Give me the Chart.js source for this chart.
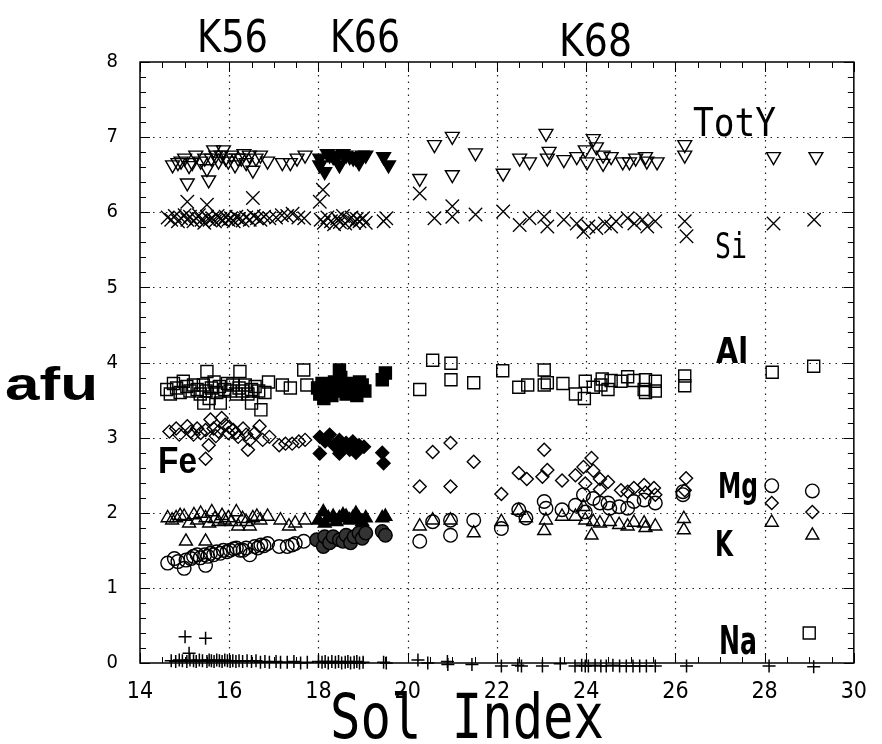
<!DOCTYPE html>
<html><head><meta charset="utf-8">
<script src="https://cdn.jsdelivr.net/npm/chart.js@4"></script>
<style>html,body{margin:0;padding:0;background:#fff}canvas{display:block}</style>
</head><body>
<canvas id="c" width="882" height="744"></canvas>
<script>
// ---------------- DATA (Sol Index, afu) ----------------
const xTickValues = [14,16,18,20,22,24,26,28,30];
const yTickValues = [0,1,2,3,4,5,6,7,8];
const xTickLabels = ['14','16','18','20','22','24','26','28','30'];
const yTickLabels = ['0','1','2','3','4','5','6','7','8'];

const totY_K56 = [[14.73,6.63],[14.85,6.66],[14.92,6.68],[15.0,6.72],[15.06,6.39],[15.1,6.62],[15.17,6.66],[15.25,6.76],[15.36,6.68],[15.45,6.72],[15.5,6.58],[15.54,6.43],[15.6,6.72],[15.65,6.83],[15.7,6.76],[15.76,6.68],[15.82,6.76],[15.87,6.83],[15.92,6.72],[15.98,6.68],[16.05,6.76],[16.13,6.63],[16.2,6.72],[16.27,6.72],[16.33,6.78],[16.38,6.66],[16.45,6.76],[16.53,6.56],[16.6,6.72],[16.7,6.76],[16.86,6.68],[17.19,6.66],[17.37,6.66],[17.52,6.72],[17.7,6.76]];
const totY_K66 = [[18.03,6.72],[18.03,6.63],[18.14,6.54],[18.2,6.78],[18.25,6.76],[18.33,6.74],[18.4,6.72],[18.47,6.63],[18.55,6.78],[18.62,6.76],[18.7,6.74],[18.78,6.72],[18.84,6.72],[18.91,6.66],[18.98,6.76],[19.06,6.76],[19.46,6.74],[19.57,6.63]];
const totY_K68 = [[20.27,6.45],[20.6,6.9],[21.0,7.01],[21.0,6.5],[21.52,6.79],[22.14,6.52],[22.51,6.72],[22.73,6.67],[23.1,7.05],[23.13,6.72],[23.17,6.81],[23.5,6.7],[23.79,6.74],[23.98,6.83],[24.02,6.67],[24.16,6.98],[24.23,6.87],[24.38,6.76],[24.38,6.65],[24.56,6.74],[24.82,6.67],[24.97,6.67],[25.11,6.72],[25.33,6.74],[25.36,6.68],[25.59,6.67],[26.21,6.9],[26.21,6.76],[28.2,6.74],[29.15,6.74]];

const si_K56 = [[14.62,5.93],[14.7,5.9],[14.78,5.95],[14.85,5.88],[14.92,5.92],[15.0,5.96],[15.06,6.14],[15.06,5.9],[15.12,5.94],[15.2,5.88],[15.26,5.92],[15.32,5.96],[15.38,5.9],[15.44,5.86],[15.5,6.1],[15.5,5.94],[15.56,5.9],[15.62,5.92],[15.68,5.88],[15.74,5.95],[15.8,5.91],[15.86,5.89],[15.92,5.94],[15.98,5.9],[16.04,5.92],[16.1,5.88],[16.16,5.94],[16.22,5.91],[16.3,5.89],[16.38,5.93],[16.46,5.9],[16.53,6.19],[16.55,5.95],[16.62,5.92],[16.7,5.9],[16.78,5.94],[16.9,5.92],[17.05,5.93],[17.18,5.96],[17.3,5.95],[17.42,5.98],[17.55,5.93],[17.68,5.92]];
const si_K66 = [[18.03,6.14],[18.1,6.3],[18.05,5.9],[18.12,5.86],[18.2,5.93],[18.28,5.88],[18.35,5.84],[18.42,5.92],[18.48,5.87],[18.55,5.95],[18.6,5.85],[18.68,5.9],[18.74,5.93],[18.8,5.86],[18.86,5.91],[18.92,5.88],[19.0,5.92],[19.06,5.86],[19.46,5.88],[19.52,5.92]];
const si_K68 = [[20.27,6.25],[20.6,5.92],[21.0,6.08],[21.0,5.94],[21.52,5.97],[22.14,6.01],[22.51,5.83],[22.73,5.92],[23.06,5.94],[23.13,5.81],[23.5,5.9],[23.79,5.85],[23.94,5.74],[24.05,5.81],[24.23,5.79],[24.42,5.85],[24.56,5.81],[24.67,5.88],[24.93,5.92],[25.08,5.85],[25.26,5.9],[25.37,5.81],[25.55,5.88],[26.21,5.88],[26.25,5.68],[28.2,5.85],[29.11,5.9]];

const al_K56 = [[14.6,3.64],[14.68,3.58],[14.75,3.72],[14.82,3.66],[14.9,3.6],[14.97,3.75],[15.05,3.68],[15.12,3.62],[15.2,3.7],[15.28,3.64],[15.35,3.58],[15.43,3.46],[15.42,3.7],[15.5,3.88],[15.48,3.62],[15.55,3.52],[15.6,3.66],[15.66,3.74],[15.72,3.6],[15.8,3.46],[15.78,3.68],[15.9,3.64],[15.96,3.72],[16.02,3.62],[16.08,3.7],[16.16,3.58],[16.24,3.88],[16.22,3.66],[16.3,3.62],[16.36,3.7],[16.42,3.58],[16.5,3.46],[16.5,3.64],[16.58,3.68],[16.66,3.62],[16.71,3.37],[16.8,3.6],[16.88,3.74],[17.19,3.7],[17.37,3.66],[17.67,3.9],[17.74,3.7]];
const al_K66 = [[17.98,3.66],[18.03,3.58],[18.08,3.72],[18.12,3.52],[18.18,3.64],[18.25,3.7],[18.3,3.56],[18.36,3.74],[18.42,3.62],[18.47,3.9],[18.5,3.8],[18.56,3.66],[18.62,3.58],[18.68,3.72],[18.74,3.64],[18.8,3.68],[18.86,3.56],[18.92,3.74],[18.98,3.7],[19.04,3.62],[19.43,3.77],[19.5,3.86]];
const al_K68 = [[20.27,3.64],[20.56,4.03],[20.97,3.99],[20.97,3.77],[21.48,3.73],[22.13,3.89],[22.49,3.67],[22.69,3.7],[23.06,3.9],[23.06,3.7],[23.13,3.73],[23.48,3.72],[23.76,3.58],[23.96,3.52],[23.98,3.75],[24.16,3.67],[24.33,3.7],[24.36,3.78],[24.49,3.64],[24.56,3.76],[24.78,3.75],[24.93,3.81],[25.07,3.76],[25.3,3.64],[25.33,3.77],[25.33,3.6],[25.55,3.75],[25.55,3.62],[26.21,3.82],[26.21,3.69],[28.17,3.87],[29.1,3.95],[29.0,0.4]];

const fe_K56 = [[14.66,3.08],[14.81,3.12],[14.88,3.04],[15.06,3.15],[15.14,3.08],[15.2,3.04],[15.28,3.12],[15.36,3.06],[15.47,3.1],[15.47,2.72],[15.54,2.9],[15.58,3.24],[15.65,3.12],[15.7,3.02],[15.76,3.08],[15.83,3.26],[15.91,3.17],[15.98,3.06],[16.0,3.14],[16.09,3.1],[16.15,3.06],[16.2,3.01],[16.31,3.12],[16.38,3.04],[16.42,2.84],[16.46,2.97],[16.57,3.06],[16.68,3.15],[16.75,2.97],[16.9,3.01],[17.12,2.9],[17.26,2.92],[17.41,2.92],[17.56,2.95],[17.7,2.97]];
const fe_K66 = [[18.03,3.01],[18.03,2.79],[18.15,2.95],[18.25,3.04],[18.35,2.9],[18.47,2.97],[18.47,2.79],[18.55,2.86],[18.62,2.93],[18.7,2.84],[18.77,2.95],[18.84,2.8],[18.91,2.9],[19.02,2.88],[19.43,2.8],[19.46,2.66]];
const fe_K68 = [[20.56,2.81],[20.96,2.93],[21.48,2.68],[20.27,2.35],[20.96,2.35],[22.1,2.25],[22.49,2.53],[22.67,2.45],[23.06,2.84],[23.02,2.48],[23.13,2.57],[23.46,2.43],[23.76,2.5],[23.94,2.61],[24.12,2.73],[24.16,2.56],[23.98,2.39],[24.31,2.45],[24.49,2.41],[24.31,2.31],[24.78,2.3],[24.93,2.28],[25.07,2.33],[25.3,2.37],[25.33,2.27],[25.52,2.33],[25.55,2.24],[26.24,2.46],[26.21,2.3],[28.16,2.13],[29.07,2.01]];

const mg_K56 = [[14.62,1.33],[14.77,1.39],[14.85,1.35],[14.99,1.26],[15.03,1.37],[15.14,1.39],[15.2,1.42],[15.28,1.44],[15.35,1.4],[15.47,1.3],[15.45,1.44],[15.52,1.42],[15.58,1.46],[15.65,1.44],[15.72,1.48],[15.8,1.46],[15.87,1.5],[15.95,1.48],[16.02,1.5],[16.1,1.52],[16.16,1.53],[16.24,1.5],[16.31,1.5],[16.38,1.53],[16.46,1.44],[16.57,1.55],[16.64,1.53],[16.71,1.57],[16.78,1.56],[16.86,1.59],[17.12,1.55],[17.3,1.55],[17.41,1.57],[17.48,1.59],[17.67,1.62]];
const mg_K66 = [[17.96,1.64],[18.11,1.55],[18.14,1.68],[18.25,1.6],[18.33,1.68],[18.47,1.64],[18.55,1.62],[18.62,1.7],[18.72,1.6],[18.8,1.68],[18.91,1.73],[18.98,1.66],[19.06,1.73],[19.43,1.75],[19.5,1.7]];
const mg_K68 = [[20.27,1.62],[20.56,1.88],[20.96,1.9],[20.96,1.7],[21.48,1.9],[22.1,1.79],[22.49,2.04],[22.65,1.93],[23.06,2.15],[23.1,2.06],[23.46,2.04],[23.76,2.1],[23.94,2.24],[23.98,2.01],[24.16,2.19],[24.31,2.13],[24.49,2.13],[24.53,2.06],[24.74,2.08],[24.93,2.06],[25.07,2.15],[25.3,2.17],[25.55,2.13],[26.17,2.24],[26.17,2.28],[28.16,2.36],[29.07,2.29]];

const k_K56 = [[14.62,1.93],[14.72,1.9],[14.81,1.93],[14.9,1.96],[14.99,1.95],[15.03,1.62],[15.1,1.86],[15.21,1.97],[15.28,1.9],[15.36,1.99],[15.47,1.93],[15.47,1.62],[15.55,1.86],[15.61,2.01],[15.68,1.92],[15.76,1.88],[15.84,1.96],[15.9,1.9],[15.98,1.93],[16.05,1.88],[16.16,2.01],[16.2,1.82],[16.3,1.92],[16.38,1.88],[16.46,1.82],[16.53,1.93],[16.62,1.95],[16.7,1.9],[16.86,1.95],[17.15,1.9],[17.34,1.82],[17.48,1.86],[17.7,1.9]];
const k_K66 = [[18.0,1.9],[18.11,2.01],[18.14,1.86],[18.22,1.93],[18.33,1.95],[18.4,1.88],[18.47,1.93],[18.55,1.97],[18.62,1.95],[18.7,1.9],[18.77,1.93],[18.84,1.99],[18.91,1.92],[18.98,1.88],[19.06,1.93],[19.43,1.93],[19.5,1.95]];
const k_K68 = [[20.27,1.82],[20.56,1.9],[20.96,1.9],[21.48,1.73],[22.1,1.88],[22.49,2.03],[22.65,1.93],[23.06,1.76],[23.1,1.9],[23.46,1.95],[23.76,1.95],[23.94,2.08],[23.98,1.9],[24.12,1.7],[24.16,1.88],[24.31,1.86],[24.53,1.88],[24.74,1.84],[24.93,1.82],[25.07,1.87],[25.3,1.86],[25.33,1.8],[25.55,1.82],[26.19,1.92],[26.19,1.77],[28.16,1.87],[29.07,1.7]];

const na_K56 = [[14.7,0.03],[14.8,0.02],[14.88,0.04],[14.95,0.03],[15.01,0.35],[15.05,0.02],[15.1,0.13],[15.12,0.04],[15.2,0.03],[15.26,0.02],[15.33,0.04],[15.4,0.03],[15.47,0.33],[15.5,0.02],[15.55,0.04],[15.6,0.03],[15.66,0.02],[15.72,0.04],[15.78,0.03],[15.84,0.02],[15.9,0.04],[15.96,0.03],[16.02,0.02],[16.08,0.03],[16.15,0.02],[16.22,0.03],[16.3,0.02],[16.4,0.03],[16.5,0.02],[16.6,0.03],[16.7,0.01],[16.8,0.02],[16.9,0.01],[17.05,0.02],[17.15,0.01],[17.3,0.01],[17.45,0.02],[17.6,0.0],[17.75,0.01]];
const na_K66 = [[18.0,0.02],[18.08,0.01],[18.15,0.02],[18.22,0.0],[18.3,0.02],[18.38,0.01],[18.45,0.02],[18.52,0.0],[18.6,0.01],[18.66,0.02],[18.72,0.0],[18.8,0.01],[18.86,0.02],[18.92,0.0],[19.0,0.01],[19.46,0.01],[19.52,0.0]];
const na_K68 = [[20.23,0.04],[20.45,0.0],[20.89,0.02],[20.9,-0.02],[21.44,-0.02],[22.1,-0.04],[22.47,-0.03],[22.55,-0.04],[23.02,-0.04],[23.42,-0.01],[23.75,-0.04],[23.9,-0.03],[23.98,-0.04],[24.05,-0.04],[24.2,-0.03],[24.33,-0.04],[24.45,-0.04],[24.6,-0.03],[24.75,-0.04],[24.9,-0.04],[25.05,-0.04],[25.2,-0.04],[25.35,-0.04],[25.55,-0.04],[26.25,-0.04],[28.1,-0.04],[29.1,-0.05]];

const annotText = ['K56','K66','K68','afu','Sol Index','TotY','Si','Al','Mg','K','Na','Fe'];

// ---------------- STYLE / LAYOUT ----------------
const NARROW = "'Liberation Sans Narrow','DejaVu Sans Condensed','Liberation Sans',sans-serif";
const MONO = "'DejaVu Sans Mono','Liberation Mono',monospace";
const SANS = "'Liberation Sans','DejaVu Sans',sans-serif";
const annotLayout = [
  {x0:197,x1:268,base:52,cap:32,fam:NARROW,w:'normal'},
  {x0:330,x1:400,base:52,cap:32,fam:NARROW,w:'normal'},
  {x0:559,x1:632,base:56,cap:32,fam:NARROW,w:'normal'},
  {x0:5,x1:98,base:400,cap:33,fam:SANS,w:'bold'},
  {x0:330,x1:604,base:738,cap:45,fam:MONO,w:'normal'},
  {x0:693,x1:776,base:136,cap:28,fam:MONO,w:'normal'},
  {x0:715,x1:747,base:258,cap:26,fam:MONO,w:'normal'},
  {x0:716,x1:748,base:363,cap:26,fam:NARROW,w:'bold'},
  {x0:718,x1:758,base:498,cap:25,fam:NARROW,w:'bold'},
  {x0:715,x1:733,base:556,cap:26,fam:NARROW,w:'bold'},
  {x0:719,x1:757,base:654,cap:28,fam:NARROW,w:'bold'},
  {x0:158,x1:197,base:473,cap:26,fam:SANS,w:'bold'}
];

const pts = arr => arr.map(p => ({x:p[0], y:p[1]}));
const OPEN = 'rgba(0,0,0,0)';
function ds(label, data, style, r, fill, rot, bw) {
  return {label, data: pts(data), pointStyle: style, pointRadius: r, pointHoverRadius: r,
    pointBorderColor: '#000', pointBackgroundColor: fill, pointBorderWidth: bw || 1.4,
    pointRotation: rot || 0, showLine: false, clip: false};
}

const datasets = [
  ds('TotY', totY_K56.concat(totY_K68), 'triangle', 8, OPEN, 180),
  ds('TotY K66', totY_K66, 'triangle', 8, '#000', 180),
  ds('Si', si_K56.concat(si_K66, si_K68), 'crossRot', 9.5, OPEN, 0, 1.3),
  ds('Al', al_K56.concat(al_K68), 'rect', 8.5, OPEN),
  ds('Al K66', al_K66, 'rect', 8.5, '#000'),
  ds('Fe', fe_K56.concat(fe_K68), 'rectRot', 6.5, OPEN),
  ds('Fe K66', fe_K66, 'rectRot', 6.5, '#000'),
  ds('Mg', mg_K56.concat(mg_K68), 'circle', 6.8, OPEN),
  ds('Mg K66', mg_K66, 'circle', 6.8, '#333'),
  ds('K', k_K56.concat(k_K68), 'triangle', 7.5, OPEN),
  ds('K K66', k_K66, 'triangle', 7.5, '#000'),
  ds('Na', na_K56.concat(na_K66, na_K68), 'cross', 6.5, OPEN, 0, 1.5)
];

function drawFit(ctx, text, L) {
  const size = L.cap / 0.72;
  ctx.save();
  ctx.font = `${L.w} ${size}px ${L.fam}`;
  ctx.fillStyle = '#000';
  ctx.textBaseline = 'alphabetic';
  ctx.textAlign = 'left';
  const w = ctx.measureText(text).width;
  ctx.translate(L.x0, L.base);
  ctx.scale((L.x1 - L.x0) / w, 1);
  ctx.fillText(text, 0, 0);
  ctx.restore();
}

const framePlugin = {
  id: 'frame',
  beforeDatasetsDraw(chart) {
    const {ctx, chartArea: a, scales: {x, y}} = chart;
    ctx.save();
    ctx.strokeStyle = '#222';
    ctx.lineWidth = 1.2;
    ctx.setLineDash([1.5, 5]);
    xTickValues.slice(1, -1).forEach(v => {
      const px = Math.round(x.getPixelForValue(v)) + 0.5;
      ctx.beginPath(); ctx.moveTo(px, a.top); ctx.lineTo(px, a.bottom); ctx.stroke();
    });
    yTickValues.slice(1, -1).forEach(v => {
      const py = Math.round(y.getPixelForValue(v)) + 0.5;
      ctx.beginPath(); ctx.moveTo(a.left, py); ctx.lineTo(a.right, py); ctx.stroke();
    });
    ctx.restore();
  },
  afterDatasetsDraw(chart) {
    const {ctx, chartArea: a, scales: {x, y}} = chart;
    ctx.save();
    ctx.strokeStyle = '#000';
    ctx.lineWidth = 1.5;
    ctx.strokeRect(a.left, a.top, a.right - a.left, a.bottom - a.top);
    ctx.lineWidth = 1;
    for (let i = 0; i <= 32; i++) {
      const v = 14 + i * 0.5;
      const px = Math.round(x.getPixelForValue(v)) + 0.5;
      const len = (i % 4 === 0) ? 10 : 6;
      ctx.beginPath();
      ctx.moveTo(px, a.bottom); ctx.lineTo(px, a.bottom - len);
      ctx.moveTo(px, a.top); ctx.lineTo(px, a.top + len);
      ctx.stroke();
    }
    for (let i = 0; i <= 40; i++) {
      const v = i * 0.2;
      const py = Math.round(y.getPixelForValue(v)) + 0.5;
      const len = (i % 5 === 0) ? 10 : 6;
      ctx.beginPath();
      ctx.moveTo(a.left, py); ctx.lineTo(a.left + len, py);
      ctx.moveTo(a.right, py); ctx.lineTo(a.right - len, py);
      ctx.stroke();
    }
    ctx.restore();
    annotText.forEach((t, i) => drawFit(ctx, t, annotLayout[i]));
  }
};

new Chart(document.getElementById('c'), {
  type: 'scatter',
  data: {datasets},
  plugins: [framePlugin],
  options: {
    responsive: false,
    animation: false,
    devicePixelRatio: 1,
    layout: {padding: {top: 62, right: 15, left: 0, bottom: 0}},
    plugins: {legend: {display: false}, tooltip: {enabled: false}},
    scales: {
      x: {
        type: 'linear', min: 14, max: 30,
        grid: {display: false, drawTicks: false},
        border: {display: false},
        afterBuildTicks: s => { s.ticks = xTickValues.map(v => ({value: v})); },
        afterFit: s => { s.height = 81; },
        ticks: {padding: 15, color: '#000', autoSkip: false, maxRotation: 0,
          font: {family: NARROW, size: 23, weight: 'normal'},
          callback: (v) => xTickLabels[xTickValues.indexOf(v)] ?? ''}
      },
      y: {
        type: 'linear', min: 0, max: 8,
        grid: {display: false, drawTicks: false},
        border: {display: false},
        afterBuildTicks: s => { s.ticks = yTickValues.map(v => ({value: v})); },
        afterFit: s => { s.width = 140; },
        ticks: {padding: 22, color: '#000',
          font: {family: NARROW, size: 20, weight: 'normal'},
          callback: (v) => yTickLabels[yTickValues.indexOf(v)] ?? ''}
      }
    }
  }
});
</script>
</body></html>
